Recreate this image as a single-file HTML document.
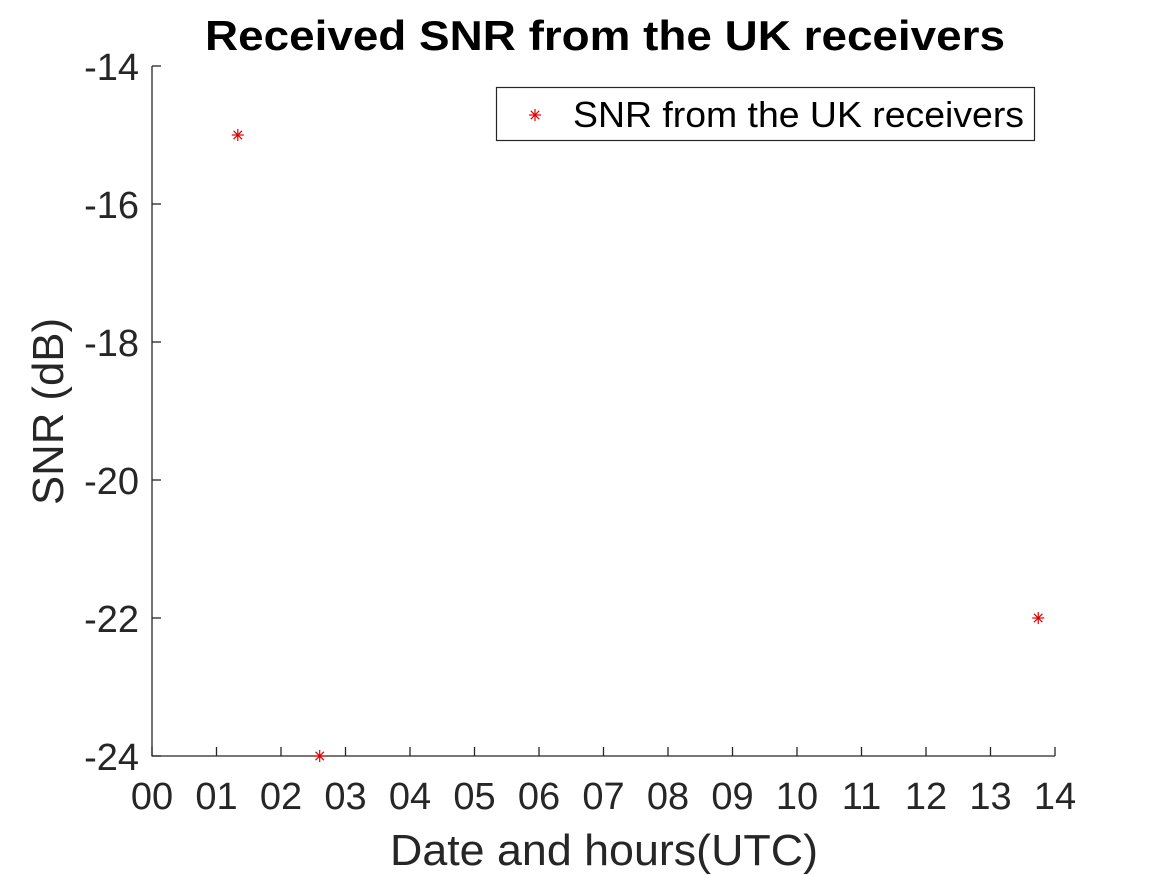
<!DOCTYPE html>
<html><head><meta charset="utf-8"><style>
body{margin:0;background:#fff;}
svg{display:block;font-family:"Liberation Sans",Arial,sans-serif;}
</style></head><body>
<svg id="c" width="1167" height="875">
<text x="205" y="50" textLength="800" lengthAdjust="spacingAndGlyphs" font-size="42" font-weight="bold" fill="#000">Received SNR from the UK receivers</text>
<g id="axes"></g>
<g id="marks"></g>
<text x="390" y="865" textLength="428" lengthAdjust="spacingAndGlyphs" font-size="44" fill="#262626">Date and hours(UTC)</text>
<text transform="translate(63,505) rotate(-90)" textLength="187" lengthAdjust="spacingAndGlyphs" font-size="44" fill="#262626">SNR (dB)</text>
<g>
<rect x="496.5" y="87.5" width="538" height="53" fill="#fff" stroke="#262626" stroke-width="1.2"/>
<g id="legmark" stroke="#d00" stroke-width="1.2"></g>
<text x="573" y="127" textLength="451" lengthAdjust="spacingAndGlyphs" font-size="36" fill="#000">SNR from the UK receivers</text>
</g>
</svg>
<script>
const hours = [1.33, 2.6, 13.74];
const snr = [-15, -24, -22];
const xTicks = ["00","01","02","03","04","05","06","07","08","09","10","11","12","13","14"];
const yTicks = [-14,-16,-18,-20,-22,-24];
const NS="http://www.w3.org/2000/svg";
const L=152,R=1055,T=66,B=756;
const xs=h=>L+(R-L)*h/14;
const ys=v=>B-(B-T)*(v+24)/10;
const ax=document.getElementById('axes'), mk=document.getElementById('marks');
function mkEl(t,a,p){const e=document.createElementNS(NS,t);for(const k in a)e.setAttribute(k,a[k]);p.appendChild(e);return e;}
function star(g,x,y){const r=6;
 mkEl('line',{x1:x-r,y1:y,x2:x+r,y2:y},g);
 mkEl('line',{x1:x,y1:y-r,x2:x,y2:y+r},g);
 mkEl('line',{x1:x-r*0.7,y1:y-r*0.7,x2:x+r*0.7,y2:y+r*0.7},g);
 mkEl('line',{x1:x-r*0.7,y1:y+r*0.7,x2:x+r*0.7,y2:y-r*0.7},g);}
star(document.getElementById('legmark'),535,115);
let e=mkEl('line',{x1:L,y1:T,x2:L,y2:B+0.5,stroke:'#262626','stroke-width':1.3},ax);


e=mkEl('line',{x1:L,y1:B,x2:R,y2:B,stroke:'#262626','stroke-width':1.3},ax);


xTicks.forEach((t,i)=>{const x=xs(i);
 let l=mkEl('line',{x1:x,y1:B,x2:x,y2:B-9,stroke:'#262626','stroke-width':1.3},ax);
 
 
 let s=mkEl('text',{x:x,y:B+53,'text-anchor':'middle','font-size':38,fill:'#262626'},ax);s.textContent=t;
 
 
});
yTicks.forEach(v=>{const y=ys(v);
 let l=mkEl('line',{x1:L,y1:y,x2:L+9,y2:y,stroke:'#262626','stroke-width':1.3},ax);
 
 
 let s=mkEl('text',{x:L-13,y:y+14,'text-anchor':'end','font-size':38,fill:'#262626'},ax);s.textContent=v;
 
 
});
hours.forEach((h,i)=>{const x=xs(h),y=ys(snr[i]);
 const g=mkEl('g',{stroke:'#d00','stroke-width':1.2},mk);
 
 
 star(g,x,y);
});
</script>
</body></html>
